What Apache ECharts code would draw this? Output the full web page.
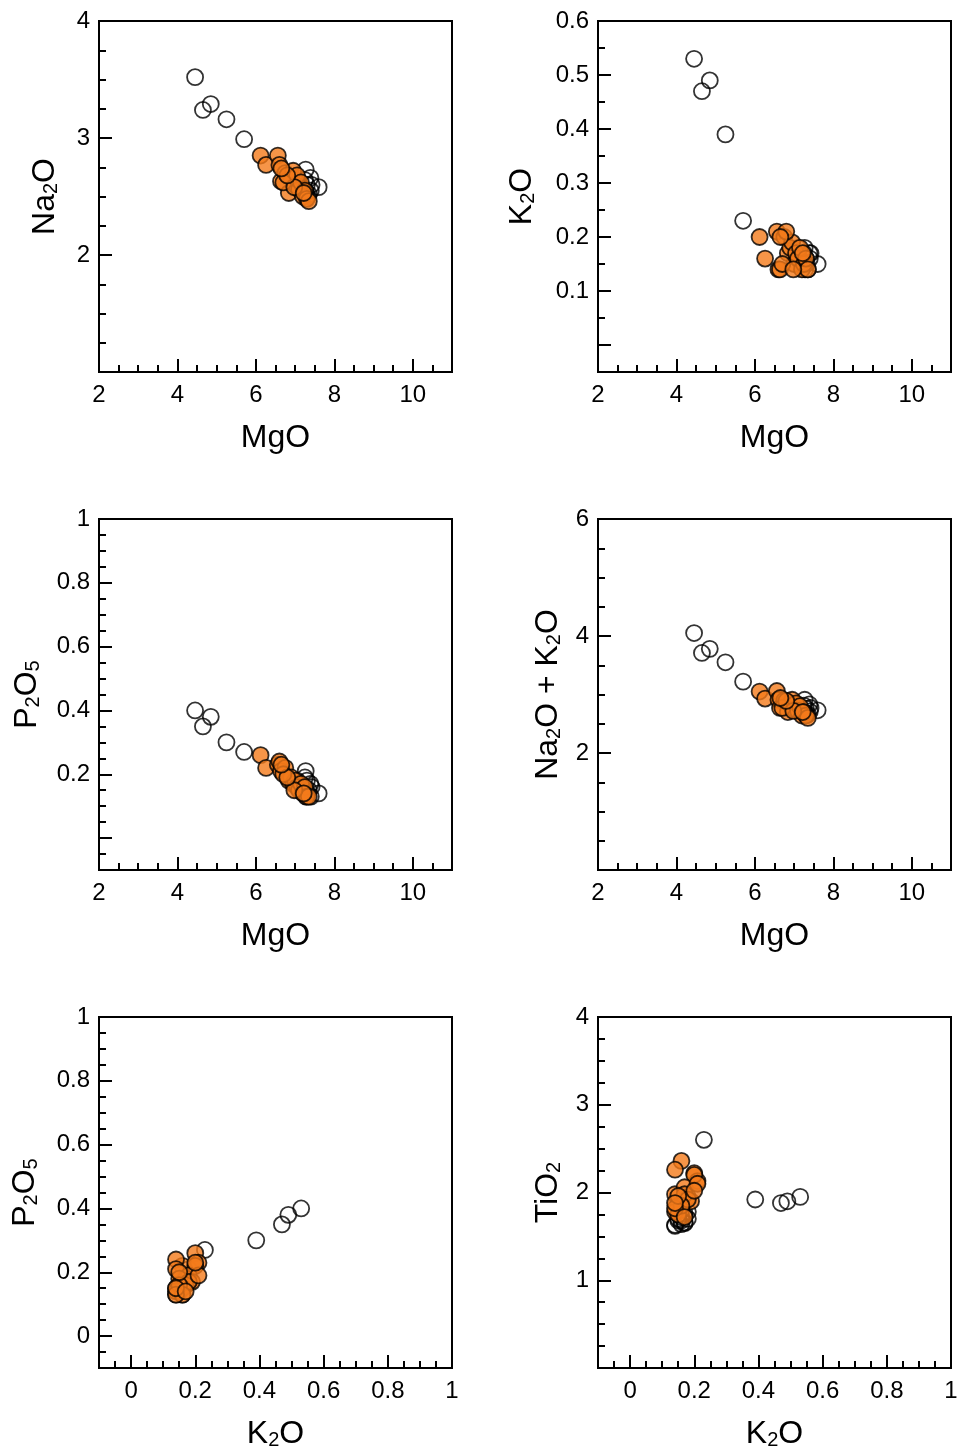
<!DOCTYPE html>
<html>
<head>
<meta charset="utf-8">
<script src="https://cdn.jsdelivr.net/npm/echarts@6/dist/echarts.min.js"></script>
<style>
  html, body { margin: 0; padding: 0; background: #fff; }
  #main { width: 961px; height: 1454px; }
</style>
</head>
<body>
<div id="main"></div>
<script>
// orange (filled) samples
const orangeMgO  = [6.12, 6.26, 6.56, 6.60, 6.64, 6.75, 6.84, 6.90, 6.95, 7.00, 7.05, 7.10, 7.15, 7.20, 7.25, 7.30, 7.35, 6.70, 6.98, 7.22, 6.80, 6.65];
const orangeNa2O = [2.85, 2.77, 2.85, 2.77, 2.63, 2.70, 2.53, 2.66, 2.72, 2.60, 2.68, 2.56, 2.62, 2.50, 2.55, 2.48, 2.46, 2.62, 2.58, 2.53, 2.68, 2.74];
const orangeK2O  = [0.20, 0.16, 0.21, 0.14, 0.14, 0.20, 0.17, 0.18, 0.19, 0.15, 0.17, 0.16, 0.18, 0.14, 0.15, 0.16, 0.14, 0.15, 0.14, 0.17, 0.21, 0.20];
const orangeP2O5 = [0.26, 0.22, 0.23, 0.24, 0.21, 0.22, 0.18, 0.19, 0.17, 0.18, 0.16, 0.15, 0.17, 0.14, 0.16, 0.13, 0.13, 0.20, 0.15, 0.14, 0.19, 0.23];
const orangeTiO2 = [2.22, 2.36, 2.13, 2.26, 1.98, 2.20, 2.06, 1.95, 1.90, 1.85, 1.98, 1.80, 1.92, 1.78, 1.75, 1.85, 1.82, 1.96, 1.88, 1.72, 2.10, 2.02];

// open samples
const openMgO  = [4.45, 4.65, 4.85, 5.25, 5.70, 7.27, 7.60, 7.39, 7.30, 7.20, 7.35, 7.25, 7.40, 7.10, 7.32, 7.15, 7.42, 7.05, 7.28];
const openNa2O = [3.52, 3.24, 3.29, 3.16, 2.99, 2.73, 2.58, 2.66, 2.60, 2.56, 2.52, 2.64, 2.55, 2.62, 2.50, 2.58, 2.60, 2.66, 2.54];
const openK2O  = [0.53, 0.47, 0.49, 0.39, 0.23, 0.18, 0.15, 0.17, 0.16, 0.15, 0.14, 0.17, 0.16, 0.18, 0.15, 0.16, 0.17, 0.17, 0.14];
const openP2O5 = [0.40, 0.35, 0.38, 0.30, 0.27, 0.21, 0.14, 0.17, 0.18, 0.16, 0.15, 0.19, 0.13, 0.17, 0.14, 0.15, 0.16, 0.18, 0.13];
const openTiO2 = [1.95, 1.88, 1.90, 1.92, 2.60, 1.70, 1.68, 1.65, 1.72, 1.75, 1.62, 1.66, 1.64, 1.78, 1.70, 1.68, 1.73, 1.76, 1.63];

const orangeAlk = orangeNa2O.map((v, i) => +(v + orangeK2O[i]).toFixed(2));
const openAlk = openNa2O.map((v, i) => +(v + openK2O[i]).toFixed(2));

// tick labels
const mgoTicks = [2, 4, 6, 8, 10];
const k2oXTicks = [0, 0.2, 0.4, 0.6, 0.8, 1];
const na2oTicks = [2, 3, 4];
const k2oYTicks = [0, 0.1, 0.2, 0.3, 0.4, 0.5, 0.6];
const k2oYLabels = [0.1, 0.2, 0.3, 0.4, 0.5, 0.6];
const p2o5Ticks = [0, 0.2, 0.4, 0.6, 0.8, 1];
const p2o5Labels = [0.2, 0.4, 0.6, 0.8, 1];
const alkTicks = [0, 2, 4, 6];
const alkLabels = [2, 4, 6];
const tio2Ticks = [1, 2, 3, 4];

const FONT = 'Liberation Sans, Arial, sans-serif';
const ORANGE = '#f47a1a';

const rich = {
  n: { fontSize: 32, fontFamily: FONT, color: '#000', lineHeight: 36, verticalAlign: 'bottom' },
  s: { fontSize: 20, fontFamily: FONT, color: '#000', lineHeight: 2, verticalAlign: 'bottom' }
};

const panels = [
  { left: 99, top: 21, xName: '{n|MgO}', yName: '{n|Na}{s|2}{n|O}', yGap: 38,
    xMin: 2, xMax: 11, xTicks: mgoTicks, xLabels: mgoTicks, xMinor: 0.5,
    yMin: 1, yMax: 4, yTicks: na2oTicks, yLabels: na2oTicks, yMinor: 0.25,
    orange: [orangeMgO, orangeNa2O], open: [openMgO, openNa2O] },
  { left: 598, top: 21, xName: '{n|MgO}', yName: '{n|K}{s|2}{n|O}', yGap: 60,
    xMin: 2, xMax: 11, xTicks: mgoTicks, xLabels: mgoTicks, xMinor: 0.5,
    yMin: -0.05, yMax: 0.6, yTicks: k2oYTicks, yLabels: k2oYLabels, yMinor: 0.05,
    orange: [orangeMgO, orangeK2O], open: [openMgO, openK2O] },
  { left: 99, top: 519, xName: '{n|MgO}', yName: '{n|P}{s|2}{n|O}{s|5}', yGap: 56,
    xMin: 2, xMax: 11, xTicks: mgoTicks, xLabels: mgoTicks, xMinor: 0.5,
    yMin: -0.1, yMax: 1, yTicks: p2o5Ticks, yLabels: p2o5Labels, yMinor: 0.05,
    orange: [orangeMgO, orangeP2O5], open: [openMgO, openP2O5] },
  { left: 598, top: 519, xName: '{n|MgO}', yName: '{n|Na}{s|2}{n|O + K}{s|2}{n|O}', yGap: 34,
    xMin: 2, xMax: 11, xTicks: mgoTicks, xLabels: mgoTicks, xMinor: 0.5,
    yMin: 0, yMax: 6, yTicks: alkTicks, yLabels: alkLabels, yMinor: 0.5,
    orange: [orangeMgO, orangeAlk], open: [openMgO, openAlk] },
  { left: 99, top: 1017, xName: '{n|K}{s|2}{n|O}', yName: '{n|P}{s|2}{n|O}{s|5}', yGap: 58,
    xMin: -0.1, xMax: 1, xTicks: k2oXTicks, xLabels: k2oXTicks, xMinor: 0.05,
    yMin: -0.1, yMax: 1, yTicks: p2o5Ticks, yLabels: p2o5Ticks, yMinor: 0.05,
    orange: [orangeK2O, orangeP2O5], open: [openK2O, openP2O5] },
  { left: 598, top: 1017, xName: '{n|K}{s|2}{n|O}', yName: '{n|TiO}{s|2}', yGap: 34,
    xMin: -0.1, xMax: 1, xTicks: k2oXTicks, xLabels: k2oXTicks, xMinor: 0.05,
    yMin: 0, yMax: 4, yTicks: tio2Ticks, yLabels: tio2Ticks, yMinor: 0.25,
    orange: [orangeK2O, orangeTiO2], open: [openK2O, openTiO2] }
];

const W = 353, H = 351;
const black = { color: '#000', width: 2 };

function zip(xs, ys) {
  return xs.map((x, i) => [x, ys[i]]);
}

function majorAxis(gi, pos, min, max, ticks, labels, name, gap) {
  return {
    type: 'value', gridIndex: gi, position: pos, min: min, max: max,
    splitLine: { show: false },
    axisLine: { show: true, onZero: false, lineStyle: black },
    axisTick: { show: true, inside: true, length: 13, customValues: ticks, lineStyle: black },
    axisLabel: { customValues: labels, color: '#000', fontSize: 24, fontFamily: FONT, margin: pos === 'left' ? 9 : 11 },
    name: name, nameLocation: 'middle', nameGap: gap,
    nameTextStyle: { rich: rich }
  };
}

function minorAxis(gi, pos, min, max, step) {
  return {
    type: 'value', gridIndex: gi, position: pos, min: min, max: max, interval: step,
    splitLine: { show: false },
    axisLine: { show: false, onZero: false },
    axisTick: { show: true, inside: true, length: 7, lineStyle: black },
    axisLabel: { show: false }
  };
}

const grid = [], xAxis = [], yAxis = [], series = [];
panels.forEach((p, i) => {
  grid.push({ left: p.left, top: p.top, width: W, height: H, show: true, borderColor: '#000', borderWidth: 2 });
  xAxis.push(majorAxis(i, 'bottom', p.xMin, p.xMax, p.xTicks, p.xLabels, p.xName, 46));
  yAxis.push(majorAxis(i, 'left', p.yMin, p.yMax, p.yTicks, p.yLabels, p.yName, p.yGap));
  // open rings first (hollow), filled orange on top
  series.push({
    type: 'scatter', xAxisIndex: i, yAxisIndex: i, symbol: 'circle', symbolSize: 16,
    itemStyle: { color: 'rgba(255,255,255,0)', borderColor: '#000', borderWidth: 1.8 },
    data: zip(p.open[0], p.open[1])
  });
  series.push({
    type: 'scatter', xAxisIndex: i, yAxisIndex: i, symbol: 'circle', symbolSize: 16,
    itemStyle: { color: ORANGE, borderColor: '#000', borderWidth: 1.8 },
    data: zip(p.orange[0], p.orange[1])
  });
});
panels.forEach((p, i) => {
  const gi = panels.length + i;
  grid.push({ left: p.left, top: p.top, width: W, height: H, show: false });
  xAxis.push(minorAxis(gi, 'bottom', p.xMin, p.xMax, p.xMinor));
  yAxis.push(minorAxis(gi, 'left', p.yMin, p.yMax, p.yMinor));
});

const chart = echarts.init(document.getElementById('main'), null, { renderer: 'canvas' });
chart.setOption({
  backgroundColor: '#fff',
  animation: false,
  grid: grid,
  xAxis: xAxis,
  yAxis: yAxis,
  series: series
});
</script>
</body>
</html>
